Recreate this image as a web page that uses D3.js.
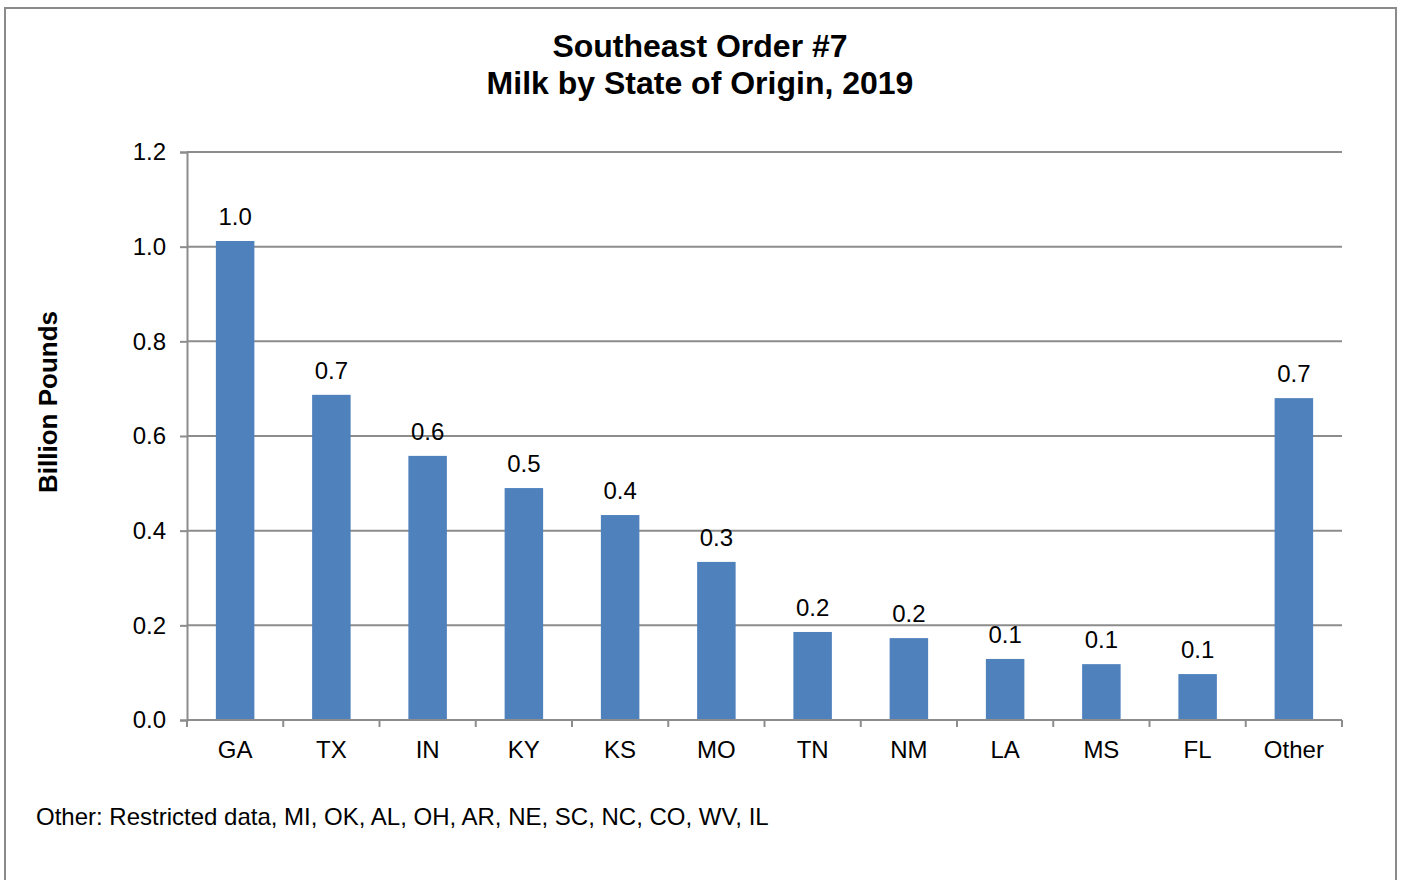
<!DOCTYPE html>
<html>
<head>
<meta charset="utf-8">
<script src="https://cdn.jsdelivr.net/npm/d3@7"></script>
<style>
  body { margin: 0; background: #fff; }
  svg { font-family: "Liberation Sans", Arial, sans-serif; }
</style>
</head>
<body>
<div id="chart"></div>
<script>
  "use strict";
  // values (billion pounds)
  const states = ["GA", "TX", "IN", "KY", "KS", "MO", "TN", "NM", "LA", "MS", "FL", "Other"];
  const milk = [1.012, 0.687, 0.558, 0.49, 0.433, 0.334, 0.186, 0.173, 0.129, 0.118, 0.097, 0.68];
  const yTicks = [0, 0.2, 0.4, 0.6, 0.8, 1.0, 1.2];
  const titleLines = ["Southeast Order #7", "Milk by State of Origin, 2019"];
  const note = "Other: Restricted data, MI, OK, AL, OH, AR, NE, SC, NC, CO, WV, IL";

  const width = 1403, height = 880;
  const margin = { left: 187, right: 61, top: 152, bottom: 160 };
  const gridColor = "#8c8c8c";
  const fontSize = 24;

  let svg = d3.select("#chart")
    .append("svg")
    .attr("width", width)
    .attr("height", height);

  // outer frame
  svg.append("rect")
    .attr("x", 5).attr("y", 8)
    .attr("width", 1391).attr("height", 900)
    .attr("fill", "none")
    .attr("stroke", "#8a8a8a")
    .attr("stroke-width", 2);

  let x = d3.scaleBand()
    .domain(states)
    .range([margin.left, width - margin.right]);

  let y = d3.scaleLinear()
    .domain([0, 1.2])
    .range([height - margin.bottom, margin.top]);

  // gridlines
  svg.append("g")
    .selectAll("line")
    .data(yTicks.filter((d) => d > 0))
    .enter()
    .append("line")
    .attr("x1", margin.left)
    .attr("x2", width - margin.right)
    .attr("y1", (d) => y(d))
    .attr("y2", (d) => y(d))
    .attr("stroke", gridColor)
    .attr("stroke-width", 2);

  // y axis
  let yAxis = svg.append("g")
    .attr("transform", `translate(${margin.left},0)`)
    .call(d3.axisLeft(y).tickValues(yTicks).tickFormat(d3.format(".1f")).tickSize(7).tickPadding(14));
  yAxis.attr("font-size", null).attr("font-family", null);
  yAxis.select(".domain").attr("stroke", gridColor).attr("stroke-width", 2);
  yAxis.selectAll(".tick line").attr("stroke", gridColor).attr("stroke-width", 2);
  yAxis.selectAll("text").attr("font-size", fontSize).attr("fill", "#000");

  // bars
  let barW = x.bandwidth() * 0.4;
  svg.append("g")
    .selectAll("rect")
    .data(states)
    .enter()
    .append("rect")
    .attr("x", (d) => x(d) + (x.bandwidth() - barW) / 2)
    .attr("y", (d, i) => y(milk[i]))
    .attr("width", barW)
    .attr("height", (d, i) => y(0) - y(milk[i]))
    .attr("fill", "#4f81bd");

  // value labels
  svg.append("g")
    .selectAll("text")
    .data(states)
    .enter()
    .append("text")
    .attr("x", (d) => x(d) + x.bandwidth() / 2)
    .attr("y", (d, i) => y(milk[i]) - 16)
    .attr("text-anchor", "middle")
    .attr("font-size", fontSize)
    .text((d, i) => d3.format(".1f")(milk[i]));

  // x axis with ticks at category boundaries
  let base = y(0);
  let xg = svg.append("g");
  xg.append("line")
    .attr("x1", margin.left).attr("x2", width - margin.right)
    .attr("y1", base).attr("y2", base)
    .attr("stroke", gridColor).attr("stroke-width", 2);
  xg.selectAll("line.tick")
    .data(states.map((d) => x(d)).concat([width - margin.right]))
    .enter()
    .append("line")
    .classed("tick", true)
    .attr("x1", (d) => d).attr("x2", (d) => d)
    .attr("y1", base).attr("y2", base + 7)
    .attr("stroke", gridColor).attr("stroke-width", 2);
  xg.selectAll("text")
    .data(states)
    .enter()
    .append("text")
    .attr("x", (d) => x(d) + x.bandwidth() / 2)
    .attr("y", base + 38)
    .attr("text-anchor", "middle")
    .attr("font-size", fontSize)
    .text((d) => d);

  // title
  svg.append("text")
    .attr("text-anchor", "middle")
    .attr("font-size", 32)
    .attr("font-weight", "bold")
    .selectAll("tspan")
    .data(titleLines)
    .enter()
    .append("tspan")
    .attr("x", 700)
    .attr("y", (d, i) => 57 + i * 37)
    .text((d) => d);

  // y axis title
  svg.append("text")
    .attr("transform", "translate(57,402) rotate(-90)")
    .attr("text-anchor", "middle")
    .attr("font-size", 26)
    .attr("font-weight", "bold")
    .text("Billion Pounds");

  // footnote
  svg.append("text")
    .attr("x", 36)
    .attr("y", 825)
    .attr("font-size", fontSize)
    .text(note);
</script>
</body>
</html>
